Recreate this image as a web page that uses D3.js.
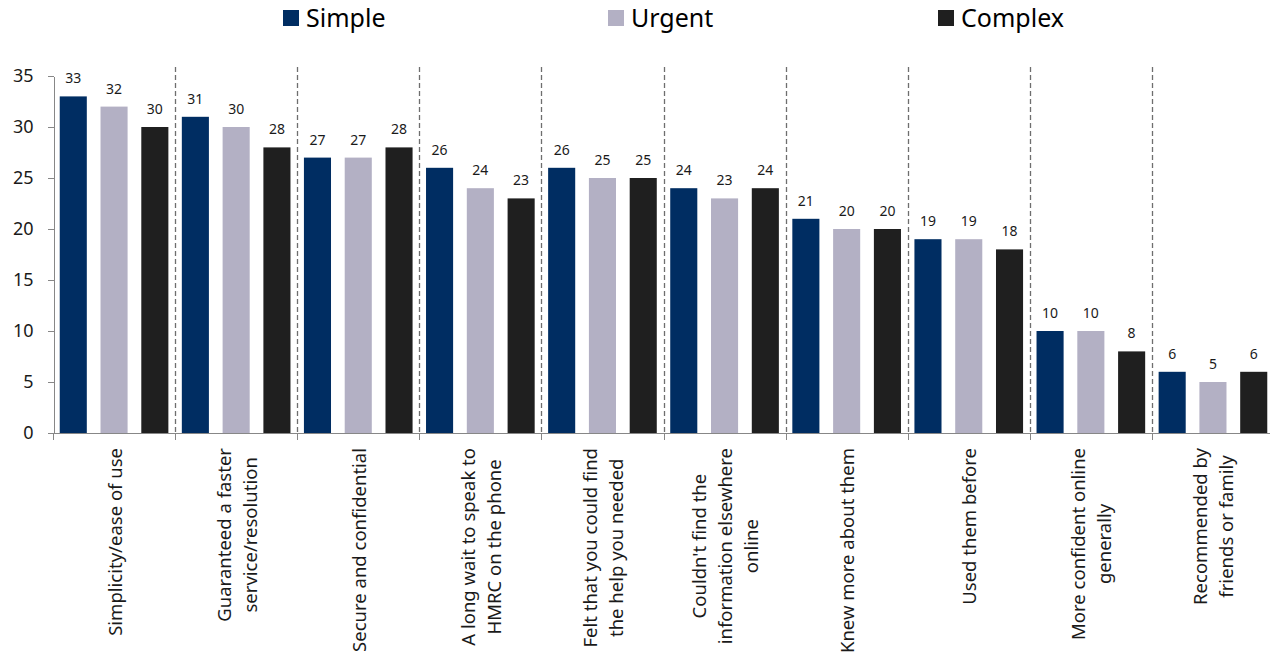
<!DOCTYPE html>
<html>
<head>
<meta charset="utf-8">
<script src="https://d3js.org/d3.v7.min.js"></script>
<style>
body {
  margin: 0;
  background: #fff;
  font-family: "Noto Sans", sans-serif;
}
.axis path,
.axis line {
  fill: none;
  stroke: #878787;
  shape-rendering: crispEdges;
}
.axis text {
  font-family: "Noto Sans", sans-serif;
  font-size: 18px;
  fill: #1a1a1a;
}
.sep {
  stroke: #6e6e6e;
  stroke-width: 1.3;
  stroke-dasharray: 5,3;
}
</style>
</head>
<body>
<svg id="chart" width="1270" height="654"></svg>
<script>
// categories, one array entry per label line
var categories = [
  ["Simplicity/ease of use"],
  ["Guaranteed a faster", "service/resolution"],
  ["Secure and confidential"],
  ["A long wait to speak to", "HMRC on the phone"],
  ["Felt that you could find", "the help you needed"],
  ["Couldn't find the", "information elsewhere", "online"],
  ["Knew more about them"],
  ["Used them before"],
  ["More confident online", "generally"],
  ["Recommended by", "friends or family"]
];
var seriesNames = ["Simple", "Urgent", "Complex"];
var simple  = [33, 31, 27, 26, 26, 24, 21, 19, 10, 6];
var urgent  = [32, 30, 27, 24, 25, 23, 20, 19, 10, 5];
var complex = [30, 28, 28, 23, 25, 24, 20, 18, 8, 6];
var yTicks = [0, 5, 10, 15, 20, 25, 30, 35];

var colors = ["#002d62", "#b3b0c4", "#1f1f1f"];
var values = [simple, urgent, complex];

var svg = d3.select("#chart");
var catKeys = categories.map(function(d) { return d.join(" "); });

var x = d3.scaleBand().domain(catKeys).range([53, 1274]).padding(0);
var xs = d3.scaleBand().domain(seriesNames).range([0, x.bandwidth()])
  .paddingInner(0.336).paddingOuter(0.165);
var y = d3.scaleLinear().domain([0, 35]).range([433, 76]);

// dashed separators between groups
svg.append("g").selectAll("line")
  .data(catKeys.slice(1))
  .enter().append("line")
  .attr("class", "sep")
  .attr("x1", function(d) { return Math.round(x(d)) + 0.5; })
  .attr("x2", function(d) { return Math.round(x(d)) + 0.5; })
  .attr("y1", 67)
  .attr("y2", y(0));

// bars
var groups = svg.append("g").selectAll("g")
  .data(catKeys)
  .enter().append("g")
  .attr("transform", function(d) { return "translate(" + x(d) + ",0)"; });

groups.selectAll("rect")
  .data(function(d, i) {
    return seriesNames.map(function(s, j) { return {s: s, j: j, v: values[j][i]}; });
  })
  .enter().append("rect")
  .attr("x", function(d) { return xs(d.s); })
  .attr("y", function(d) { return y(d.v); })
  .attr("width", xs.bandwidth())
  .attr("height", function(d) { return y(0) - y(d.v); })
  .attr("fill", function(d) { return colors[d.j]; });

// value labels
groups.selectAll("text")
  .data(function(d, i) {
    return seriesNames.map(function(s, j) { return {s: s, j: j, v: values[j][i]}; });
  })
  .enter().append("text")
  .attr("x", function(d) { return xs(d.s) + xs.bandwidth() / 2; })
  .attr("y", function(d) { return y(d.v) - 13; })
  .attr("text-anchor", "middle")
  .attr("font-size", "14px")
  .attr("fill", "#1a1a1a")
  .text(function(d) { return d.v; });

// y axis
svg.append("g")
  .attr("class", "axis")
  .attr("transform", "translate(53.5,0)")
  .call(d3.axisLeft(y).tickValues(yTicks).tickSize(6).tickPadding(14).tickSizeOuter(0));

// x axis, ticks at group boundaries
var bounds = catKeys.map(function(d) { return x(d); });
var xAxis = svg.append("g").attr("class", "axis");
xAxis.append("line")
  .attr("x1", 53).attr("x2", 1274)
  .attr("y1", y(0) + 0.5).attr("y2", y(0) + 0.5);
xAxis.selectAll(".tk")
  .data(bounds)
  .enter().append("line")
  .attr("class", "tk")
  .attr("x1", function(d) { return Math.round(d) + 0.5; })
  .attr("x2", function(d) { return Math.round(d) + 0.5; })
  .attr("y1", y(0)).attr("y2", y(0) + 7);

// rotated category labels, block ends at y=448, lines centred
var lineH = 26;
categories.forEach(function(lines, i) {
  var cx = x(catKeys[i]) + x.bandwidth() / 2;
  var g = svg.append("g")
    .attr("transform", "translate(" + cx + ",0) rotate(-90)");
  var tx = g.selectAll("text")
    .data(lines)
    .enter().append("text")
    .attr("font-size", "18.5px")
    .attr("fill", "#1a1a1a")
    .attr("text-anchor", "middle")
    .attr("y", function(d, k) { return 7.5 + (k - (lines.length - 1) / 2) * lineH; })
    .text(function(d) { return d; });
  var maxW = 0;
  tx.each(function() { maxW = Math.max(maxW, this.getComputedTextLength()); });
  tx.attr("x", -(448 + maxW / 2));
});

// legend
var legendX = [283, 608, 938];
var legend = svg.append("g").selectAll("g")
  .data(seriesNames)
  .enter().append("g")
  .attr("transform", function(d, i) { return "translate(" + legendX[i] + ",10)"; });
legend.append("rect")
  .attr("width", 16).attr("height", 16)
  .attr("fill", function(d, i) { return colors[i]; });
legend.append("text")
  .attr("x", 23).attr("y", 17)
  .attr("font-size", "25px")
  .attr("fill", "#000")
  .text(function(d) { return d; });
</script>
</body>
</html>
